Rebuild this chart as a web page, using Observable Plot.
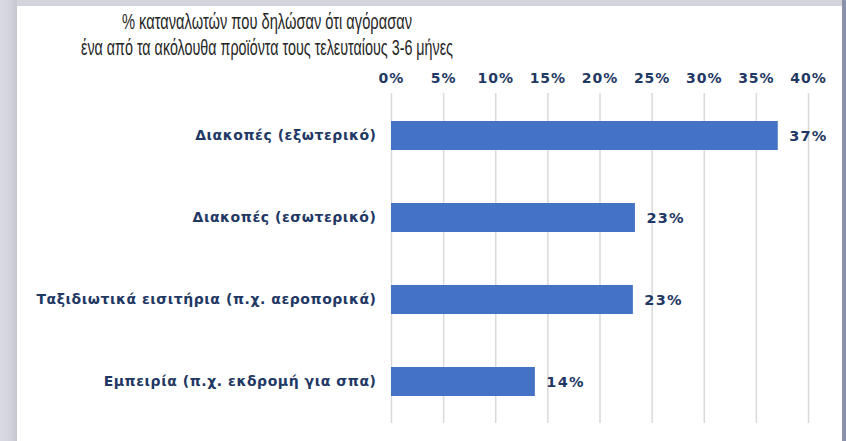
<!DOCTYPE html>
<html><head><meta charset="utf-8">
<script src="https://cdn.jsdelivr.net/npm/d3@7"></script>
<script src="https://cdn.jsdelivr.net/npm/@observablehq/plot@0.6"></script>
<style>
html,body{margin:0;padding:0;width:846px;height:441px;overflow:hidden;background:#d2d3db;}
#leftedge{position:absolute;left:0;top:0;width:17px;height:441px;background:linear-gradient(to right,#dadae2,#d0d1d9 70%,#c4c5cd);}
#frame{position:absolute;left:17px;top:6px;width:825px;height:435px;background:#fff;overflow:hidden;}
#rightedge{position:absolute;left:842px;top:0;width:4px;height:441px;background:#8b91a9;}
#title{position:absolute;left:-250px;top:3px;width:1000px;font-family:"Liberation Sans",Arial,sans-serif;font-size:21.5px;line-height:26px;color:#262626;}
#title span{display:block;white-space:nowrap;text-align:center;transform-origin:50% 50%;}
#chart{position:absolute;left:0;top:60px;}
#chart g[aria-label="y-axis tick label"] text{letter-spacing:0.55px;}
#chart g[aria-label="x-axis tick label"] text{letter-spacing:1px;}
#chart g[aria-label="text"] text{letter-spacing:1.2px;}
</style>
</head><body>
<div id="leftedge"></div>
<div id="rightedge"></div>
<div id="frame">
  <div id="title"><span id="t1">% καταναλωτών που δηλώσαν ότι αγόρασαν</span><span id="t2">ένα από τα ακόλουθα προϊόντα τους τελευταίους 3-6 μήνες</span></div>
  <div id="chart"></div>
</div>
<script>
const categories = [
  "Διακοπές (εξωτερικό)",
  "Διακοπές (εσωτερικό)",
  "Ταξιδιωτικά εισιτήρια (π.χ. αεροπορικά)",
  "Εμπειρία (π.χ. εκδρομή για σπα)"
];
const values = [37.1, 23.4, 23.2, 13.8];
const valueLabels = ["37%", "23%", "23%", "14%"];
const xTicks = [0, 5, 10, 15, 20, 25, 30, 35, 40];

const data = categories.map((c, i) => ({category: c, value: values[i], label: valueLabels[i]}));
const navy = "#1F3864";

const chart = Plot.plot({
  width: 825,
  height: 375,
  marginLeft: 374,
  marginRight: 34,
  marginTop: 27,
  marginBottom: 18,
  style: {background: "transparent", fontFamily: "'DejaVu Sans', Verdana, sans-serif", fontSize: "14px", fontWeight: "bold", color: navy},
  x: {domain: [0, 40]},
  y: {domain: categories, paddingInner: 0.65, paddingOuter: 0.325},
  marks: [
    Plot.gridX(xTicks, {stroke: "#d9d9d9", strokeOpacity: 1, strokeWidth: 1.5}),
    Plot.barX(data, {x: "value", y: "category", fill: "#4472C4"}),
    Plot.text(data, {x: "value", y: "category", text: "label", dx: 11, textAnchor: "start", fill: navy, fontWeight: "bold", fontSize: 14.5}),
    Plot.axisX(xTicks, {anchor: "top", tickSize: 0, tickPadding: 11, tickFormat: d => d + "%", label: null, fill: navy, fontWeight: "bold", fontSize: 14}),
    Plot.axisY({tickSize: 0, tickPadding: 15, label: null, fill: navy, fontWeight: "bold", fontSize: 14})
  ]
});
document.getElementById("chart").appendChild(chart);

// fit each title line to the condensed width of the original
const measure = el => { const r = document.createRange(); r.selectNodeContents(el); return r.getBoundingClientRect().width; };
const fit = (id, w) => { const el = document.getElementById(id); el.style.transform = `scaleX(${w / measure(el)})`; };
fit("t1", 290);
fit("t2", 372);
</script>
</body></html>
